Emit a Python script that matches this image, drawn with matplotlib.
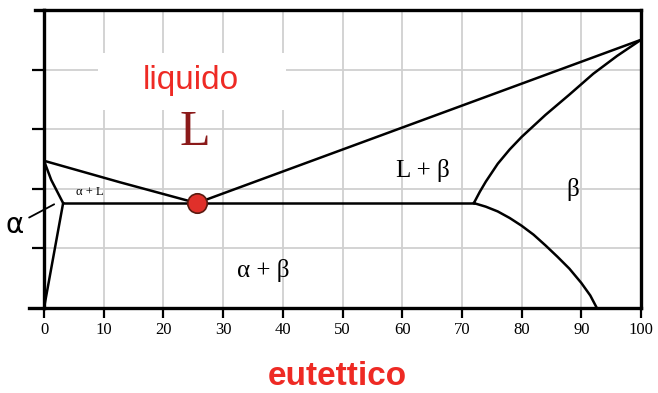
import matplotlib.pyplot as plt
from matplotlib.patches import Rectangle

# phase boundaries (composition % B, temperature in arbitrary units 0..5)
liquidus_a_x = [0, 12.7, 25.6]
liquidus_a_y = [2.47, 2.11, 1.76]
liquidus_b_x = [25.6, 100]
liquidus_b_y = [1.76, 4.5]
solidus_a_x = [0, 1.2, 3.2]
solidus_a_y = [2.47, 2.15, 1.76]
solvus_a_x = [3.2, 1.6, 0]
solvus_a_y = [1.76, 0.88, 0]
solidus_b_x = [72, 73, 74, 76, 78, 80, 84, 88, 92, 96, 100]
solidus_b_y = [1.76, 1.95, 2.12, 2.42, 2.66, 2.87, 3.24, 3.58, 3.93, 4.23, 4.5]
solvus_b_x = [72, 74, 76, 78, 80, 82, 84, 86, 88, 90, 91.5, 92.6]
solvus_b_y = [1.76, 1.70, 1.62, 1.51, 1.38, 1.23, 1.05, 0.86, 0.66, 0.42, 0.21, 0]
eutectic_line_x = [3.2, 72]
eutectic_line_y = [1.76, 1.76]
eutectic_point = (25.6, 1.76)

x_ticks = [0, 10, 20, 30, 40, 50, 60, 70, 80, 90, 100]
y_ticks = [1, 2, 3, 4]

fig = plt.figure(figsize=(6.58, 3.93), dpi=100)
ax = fig.add_axes([0.0669, 0.2163, 0.9073, 0.7583])
ax.set_xlim(0, 100)
ax.set_ylim(0, 5)

ax.set_xticks(x_ticks)
ax.set_xticklabels([str(t) for t in x_ticks], family='Liberation Serif', fontsize=12)
ax.set_yticks(y_ticks)
ax.set_yticklabels([])
ax.tick_params(axis='x', direction='out', length=7, width=1.6, pad=3)
ax.tick_params(axis='y', direction='out', length=9, width=1.6)
ax.grid(True, color='#d0d0d0', linewidth=1.3, zorder=0)
ax.set_axisbelow(True)
for sp in ax.spines.values():
    sp.set_linewidth(2.4)

# white patch behind the "liquido" label
ax.add_patch(Rectangle((9.0, 3.32), 31.5, 0.96, facecolor='white', edgecolor='none', zorder=1))

# short spine stubs on the left
ax.plot([-0.015, 0], [1, 1], transform=ax.transAxes, color='black', lw=2.4, clip_on=False)
ax.plot([-0.025, 0], [0, 0], transform=ax.transAxes, color='black', lw=2.4, clip_on=False)

lw = 1.8
for xs, ys in [(liquidus_a_x, liquidus_a_y), (liquidus_b_x, liquidus_b_y),
               (solidus_a_x, solidus_a_y), (solvus_a_x, solvus_a_y),
               (solidus_b_x, solidus_b_y), (solvus_b_x, solvus_b_y),
               (eutectic_line_x, eutectic_line_y)]:
    ax.plot(xs, ys, color='black', lw=lw, zorder=3, solid_joinstyle='round')

ax.plot(*eutectic_point, 'o', markersize=14, markerfacecolor='#e0302a',
        markeredgecolor='#5a1a10', markeredgewidth=1.2, zorder=5)

# region labels
ax.text(24.6, 3.82, 'liquido', color='#ee2a24', fontsize=24, family='Liberation Sans',
        ha='center', va='center', zorder=4)
ax.text(25.2, 2.94, 'L', color='#8b1a1a', fontsize=36, family='Liberation Serif',
        ha='center', va='center', zorder=4)
ax.text(63.5, 2.2, 'L + β', fontsize=18, family='Liberation Serif', ha='center', va='baseline')
ax.text(88.6, 1.88, 'β', fontsize=18, family='Liberation Serif', ha='center', va='baseline')
ax.text(36.8, 0.52, 'α + β', fontsize=18, family='Liberation Serif', ha='center', va='baseline')
ax.text(7.7, 1.90, 'α + L', fontsize=9, family='Liberation Serif', ha='center', va='baseline')
ax.annotate('α', xy=(1.7, 1.74), xytext=(-4.9, 1.39), fontsize=20,
            family='DejaVu Sans', ha='center', va='center', annotation_clip=False,
            arrowprops=dict(arrowstyle='-', lw=1.3, color='black', shrinkA=2, shrinkB=0))

fig.text(0.512, 0.043, 'eutettico', color='#ee2a24', fontsize=24, fontweight='bold',
         family='Liberation Sans', ha='center', va='center')

fig.savefig('out.png', dpi=100)
